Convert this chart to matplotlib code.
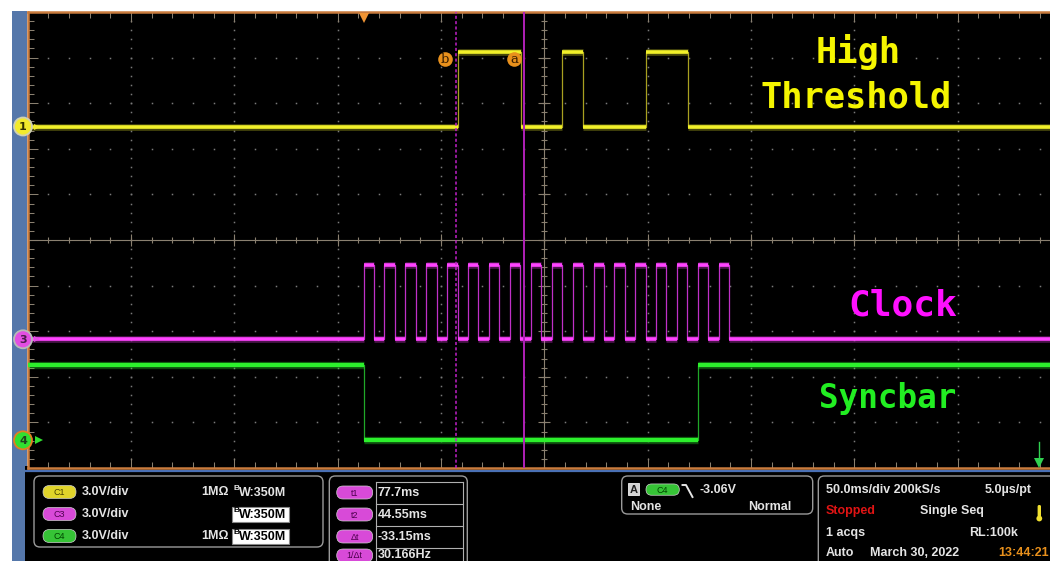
import numpy as np
import matplotlib
matplotlib.use("Agg")
import matplotlib.pyplot as plt
from matplotlib.patches import Rectangle, FancyBboxPatch, Circle
from matplotlib.ticker import FixedLocator

# ---------------- data (time in ms relative to trigger, levels in volts) ----------------
time_per_div_ms = 50.0
volts_per_div = 3.0
screen_start_ms = -162.6

ch1_edges_ms = [45.6, 76.1, 96.1, 106.1, 136.6, 156.9]
ch1_levels_v = [0.0, 4.9]
ch1_start_high = False

ch3_edges_ms = [0.3, 5.1, 9.9, 15.1, 20.1, 25.3, 30.1, 35.3, 40.4, 45.4, 50.6, 55.4,
                60.6, 65.6, 70.8, 75.8, 80.9, 85.9, 91.1, 95.9, 101.1, 106.1, 111.3, 116.3,
                121.3, 126.3, 131.4, 136.4, 141.5, 146.4, 151.6, 156.6, 161.6, 166.7, 171.8, 176.9]
ch3_levels_v = [0.0, 4.9]
ch3_start_high = False

ch4_edges_ms = [0.0, 161.9]
ch4_levels_v = [0.0, 4.9]
ch4_start_high = True

cursor_t1_ms = 77.7
cursor_t2_ms = 44.55

trace_labels = ["High\nThreshold", "Clock", "Syncbar"]
channel_names = ["C1", "C3", "C4"]
channel_scale = ["3.0V/div", "3.0V/div", "3.0V/div"]
cursor_names = ["t1", "t2", "Δt", "1/Δt"]
cursor_values = ["77.7ms", "44.55ms", "-33.15ms", "30.166Hz"]
trigger_level = "-3.06V"
timebase_text = "50.0ms/div 200kS/s"
sample_text = "5.0µs/pt"
acq_date = "March 30, 2022"
acq_time = "13:44:21"

# ---------------- figure ----------------
W, H = 1056, 561
fig = plt.figure(figsize=(W / 100, H / 100), dpi=100, facecolor="white")

ax_bg = fig.add_axes([0, 0, 1, 1], zorder=0)
ax_bg.set_xlim(0, W)
ax_bg.set_ylim(H, 0)
ax_bg.axis("off")

ax_bg.add_patch(Rectangle((12, 11), 14.5, H - 11, fc="#5577aa", ec="none"))
ax_bg.add_patch(Rectangle((25, 466), 1030, H - 466, fc="black", ec="none"))
ax_bg.plot([25, 1050], [471.4, 471.4], color="#4a70b4", lw=1.6, solid_capstyle="butt")

# ---------------- scope screen ----------------
left_px, top_px, right_px, bot_px = 27.8, 12.0, 1060.8, 468.0
ax = fig.add_axes([left_px / W, (H - bot_px) / H, (right_px - left_px) / W, (bot_px - top_px) / H],
                  zorder=1)
ax.set_facecolor("black")
x0 = screen_start_ms
x1 = screen_start_ms + 10 * time_per_div_ms
ax.set_xlim(x0, x1)
ax.set_ylim(-5, 5)

gcol = "#8a8070"
xmaj = x0 + np.arange(0, 11) * time_per_div_ms
xmin_ = x0 + np.arange(0, 51) * time_per_div_ms / 5
ymaj = np.arange(-5, 6, 1.0)
ymin_ = np.arange(-25, 26) * 0.2
ax.xaxis.set_major_locator(FixedLocator(xmaj))
ax.xaxis.set_minor_locator(FixedLocator(xmin_))
ax.yaxis.set_major_locator(FixedLocator(ymaj))
ax.yaxis.set_minor_locator(FixedLocator(ymin_))
ax.tick_params(which="both", direction="in", top=True, right=True, bottom=True, left=True,
               labelbottom=False, labelleft=False, color=gcol, width=0.75)
ax.tick_params(which="major", length=7.5)
ax.tick_params(which="minor", length=4)
for s in ax.spines.values():
    s.set_color("#c97b3d")
    s.set_linewidth(1.8)

# dotted graticule
xc = x0 + 5 * time_per_div_ms
dx, dy = [], []
for xm in xmaj[1:-1]:
    if abs(xm - xc) < 1e-6:
        continue
    dx.extend([xm] * len(ymin_))
    dy.extend(ymin_)
for ym in ymaj[1:-1]:
    if abs(ym) < 1e-6:
        continue
    dx.extend(xmin_)
    dy.extend([ym] * len(xmin_))
ax.plot(dx, dy, ls="none", marker="s", ms=1.1, mew=0, color="#7a7a7a", zorder=1)

# centre cross with ticks
ax.axvline(xc, color=gcol, lw=0.8, zorder=1)
ax.axhline(0, color=gcol, lw=0.8, zorder=1)
ax.plot(xmin_, np.zeros_like(xmin_), ls="none", marker="|", ms=5, mew=0.8, color=gcol, zorder=1)
ax.plot(np.full_like(ymin_, xc), ymin_, ls="none", marker="_", ms=5, mew=0.8, color=gcol, zorder=1)
ax.plot(xmaj, np.zeros_like(xmaj), ls="none", marker="|", ms=9, mew=0.8, color=gcol, zorder=1)
ax.plot(np.full_like(ymaj, xc), ymaj, ls="none", marker="_", ms=9, mew=0.8, color=gcol, zorder=1)


def draw_trace(edges, start_high, levels_v, offset_div, band_col, edge_col, lw_band):
    xs = np.array([x0] + list(edges) + [x1])
    state = np.array([(int(start_high) + i) % 2 for i in range(len(xs) - 1)])
    ys = offset_div + np.array(levels_v)[state] / volts_per_div
    ax.step(xs, np.append(ys, ys[-1]), where="post", color=edge_col, lw=0.9, zorder=3)
    ax.hlines(ys, xs[:-1], xs[1:], colors=band_col, lw=lw_band + 2.2, alpha=0.3, zorder=3)
    ax.hlines(ys, xs[:-1], xs[1:], colors=band_col, lw=lw_band, zorder=4)


ch1_off, ch3_off, ch4_off = 2.485, -2.178, -4.379
draw_trace(ch1_edges_ms, ch1_start_high, ch1_levels_v, ch1_off, "#f2f02a", "#a8a020", 2.6)
draw_trace(ch3_edges_ms, ch3_start_high, ch3_levels_v, ch3_off, "#ff44ff", "#c030c8", 2.6)
draw_trace(ch4_edges_ms, ch4_start_high, ch4_levels_v, ch4_off, "#2cf02c", "#20a828", 3.1)

# cursors
ax.axvline(cursor_t2_ms, color="#c020c8", lw=1.1, ls=(0, (2, 1.5)), zorder=5)
ax.axvline(cursor_t1_ms, color="#b020b8", lw=1.4, zorder=5)
for cx, lab in [(cursor_t2_ms - 5.3, "b"), (cursor_t1_ms - 4.9, "a")]:
    ax.plot([cx], [3.96], marker="o", ms=10.5, color="#e8901c", mew=0, zorder=6)
    ax.text(cx, 3.96, lab, color="#3a1e00", fontsize=9.5, family="DejaVu Serif",
            ha="center", va="center", zorder=7)

# trigger position marker and trigger arrow
ax.plot([0.0], [4.86], marker="v", ms=7.5, color="#f09434", mew=0, clip_on=False, zorder=6)
ax.plot([327.0, 327.0], [-4.43, -4.80], color="#30d050", lw=1.0, zorder=6)
ax.plot([327.0], [-4.88], marker="v", ms=6.5, color="#30d050", mew=0, zorder=6)

# ---------------- overlay (pixel coords) ----------------
ax_ov = fig.add_axes([0, 0, 1, 1], zorder=3)
ax_ov.set_xlim(0, W)
ax_ov.set_ylim(H, 0)
ax_ov.axis("off")
ax_ov.set_facecolor("none")

mono = dict(family="DejaVu Sans Mono", weight="bold")
ax_ov.text(858, 63, "High", color="#f5f500", fontsize=25.5, ha="center", va="baseline", **mono)
ax_ov.text(856, 107, "Threshold", color="#f5f500", fontsize=25.5, ha="center", va="baseline", **mono)
ax_ov.text(903, 315, trace_labels[1], color="#ff10ff", fontsize=26, ha="center", va="baseline", **mono)
ax_ov.text(888, 408, trace_labels[2], color="#22ee22", fontsize=23.5, ha="center", va="baseline", **mono)

# channel markers
for (cy, fc, ec, num, tc) in [(126.5, "#f2ea2c", "#d0d0b0", "1", "#303000"),
                              (339.3, "#e24ee2", "#b8b8b8", "3", "#4a1a4a"),
                              (440.3, "#30e030", "#e08020", "4", "#1e401e")]:
    ax_ov.add_patch(Circle((23, cy), 9, fc=fc, ec=ec, lw=1.3, zorder=5))
    ax_ov.text(23, cy + 0.5, num, color=tc, fontsize=8, weight="bold", ha="center", va="center",
               zorder=6)
ax_ov.plot([38.5], [440.3], marker=">", ms=6, color="#30e030", mew=0, zorder=5)
ax_ov.plot([37], [126.5], marker=">", ms=5, color="#f2ea2c", mew=0, zorder=5)
ax_ov.plot([37], [339.3], marker=">", ms=5, color="#e24ee2", mew=0, zorder=5)

# ---------------- bottom info panel ----------------
sans = dict(family=["Liberation Sans", "DejaVu Sans"], weight="bold")
txtc = "#e4e4e4"
boxc = "#9a9a9a"


def rbox(x, y, w, h, r=6, fc="none", ec=boxc, lw=1.0):
    ax_ov.add_patch(FancyBboxPatch((x, y), w, h, boxstyle=f"round,pad=0,rounding_size={r}",
                                   fc=fc, ec=ec, lw=lw))


def pill(x, y_c, w, h, fc, label, tc):
    rbox(x, y_c - h / 2, w, h, r=h / 2, fc=fc, ec="#d0d0d0", lw=0.5)
    ax_ov.text(x + w / 2, y_c + 0.5, label, color=tc, fontsize=6.5, ha="center", va="center",
               family=["Liberation Sans", "DejaVu Sans"])


def bw_label(x, y_c, boxed):
    if boxed:
        ax_ov.add_patch(Rectangle((x - 1.5, y_c - 7.5), 56.5, 15, fc="white", ec="#888888", lw=0.8))
        col = "black"
    else:
        col = txtc
    ax_ov.text(x, y_c - 3.5, "B", color=col, fontsize=6, ha="left", va="center", **sans)
    ax_ov.text(x + 5, y_c + 1, "W:350M", color=col, fontsize=9, ha="left", va="center", **sans)


# channel box
rbox(34, 476, 289, 71)
row_y = [492, 514, 536]
pill_cols = [("#e0d42a", "#4a4400"), ("#d84ad8", "#4e004e"), ("#36c436", "#004400")]
for i in range(3):
    pill(43, row_y[i], 33, 13, pill_cols[i][0], channel_names[i], pill_cols[i][1])
    ax_ov.text(81.5, row_y[i], channel_scale[i], color=txtc, fontsize=9, ha="left", va="center", **sans)
ax_ov.text(201, row_y[0], "1MΩ", color=txtc, fontsize=9, ha="left", va="center", **sans)
ax_ov.text(201, row_y[2], "1MΩ", color=txtc, fontsize=9, ha="left", va="center", **sans)
bw_label(233.5, row_y[0], False)
bw_label(233.5, row_y[1], True)
bw_label(233.5, row_y[2], True)

# cursor box
rbox(329.3, 476, 138, 120)
cur_y = [492.5, 514.5, 536.5, 555.5]
for i in range(4):
    pill(336.7, cur_y[i], 36, 13, "#d84ad8", cursor_names[i], "#4e004e")
    ax_ov.text(378, cur_y[i], cursor_values[i], color=txtc, fontsize=9, ha="left", va="center", **sans)
for yl in [482, 504.3, 526, 547.7]:
    ax_ov.plot([375.7, 463.3], [yl, yl], color="#b0b0b0", lw=0.8)
for xl in [375.7, 463.3]:
    ax_ov.plot([xl, xl], [482, 565], color="#b0b0b0", lw=0.8)

# trigger box
rbox(621.7, 476, 191, 38)
ax_ov.add_patch(Rectangle((628.3, 483.3), 10.7, 11.7, fc="#d4d4d4", ec="#f0f0f0", lw=0.6))
ax_ov.text(633.6, 489.5, "A", color="#202020", fontsize=8, ha="center", va="center", **sans)
pill(646, 489.6, 33.3, 11.3, "#36c436", channel_names[2], "#004400")
ax_ov.plot([682.5, 686, 692.5], [485, 485, 497], color=txtc, lw=1.4)
ax_ov.text(699.3, 489.5, trigger_level, color=txtc, fontsize=9, ha="left", va="center", **sans)
ax_ov.text(630, 506.8, "None", color=txtc, fontsize=9, ha="left", va="center", **sans)
ax_ov.text(791.7, 506.8, "Normal", color=txtc, fontsize=9, ha="right", va="center", **sans)

# horizontal / acquisition box
rbox(818.3, 476, 300, 120)
ax_ov.text(826, 490, timebase_text, color=txtc, fontsize=9, ha="left", va="center", **sans)
ax_ov.text(1031.7, 490, sample_text, color=txtc, fontsize=9, ha="right", va="center", **sans)
ax_ov.text(826, 511, "Stopped", color="#e01414", fontsize=9, ha="left", va="center", **sans)
ax_ov.text(920, 511, "Single Seq", color=txtc, fontsize=9, ha="left", va="center", **sans)
ax_ov.add_patch(FancyBboxPatch((1037.6, 505), 3.4, 12, boxstyle="round,pad=0,rounding_size=1.5",
                               fc="#f0e030", ec="none"))
ax_ov.add_patch(Circle((1039.3, 518.5), 2.9, fc="#f0e030", ec="none"))
ax_ov.text(826, 532.7, "1 acqs", color=txtc, fontsize=9, ha="left", va="center", **sans)
ax_ov.text(1018.3, 532.7, "RL:100k", color=txtc, fontsize=9, ha="right", va="center", **sans)
ax_ov.text(826, 553.5, "Auto", color=txtc, fontsize=9, ha="left", va="center", **sans)
ax_ov.text(870, 553.5, acq_date, color=txtc, fontsize=9, ha="left", va="center", **sans)
ax_ov.text(998, 553.5, acq_time, color="#e8901c", fontsize=9, ha="left", va="center", **sans)

# white margin on the right edge
ax_ov.add_patch(Rectangle((1050, -5), 20, H + 10, fc="white", ec="none", zorder=20))

fig.savefig("out.png", dpi=100, facecolor="white")
